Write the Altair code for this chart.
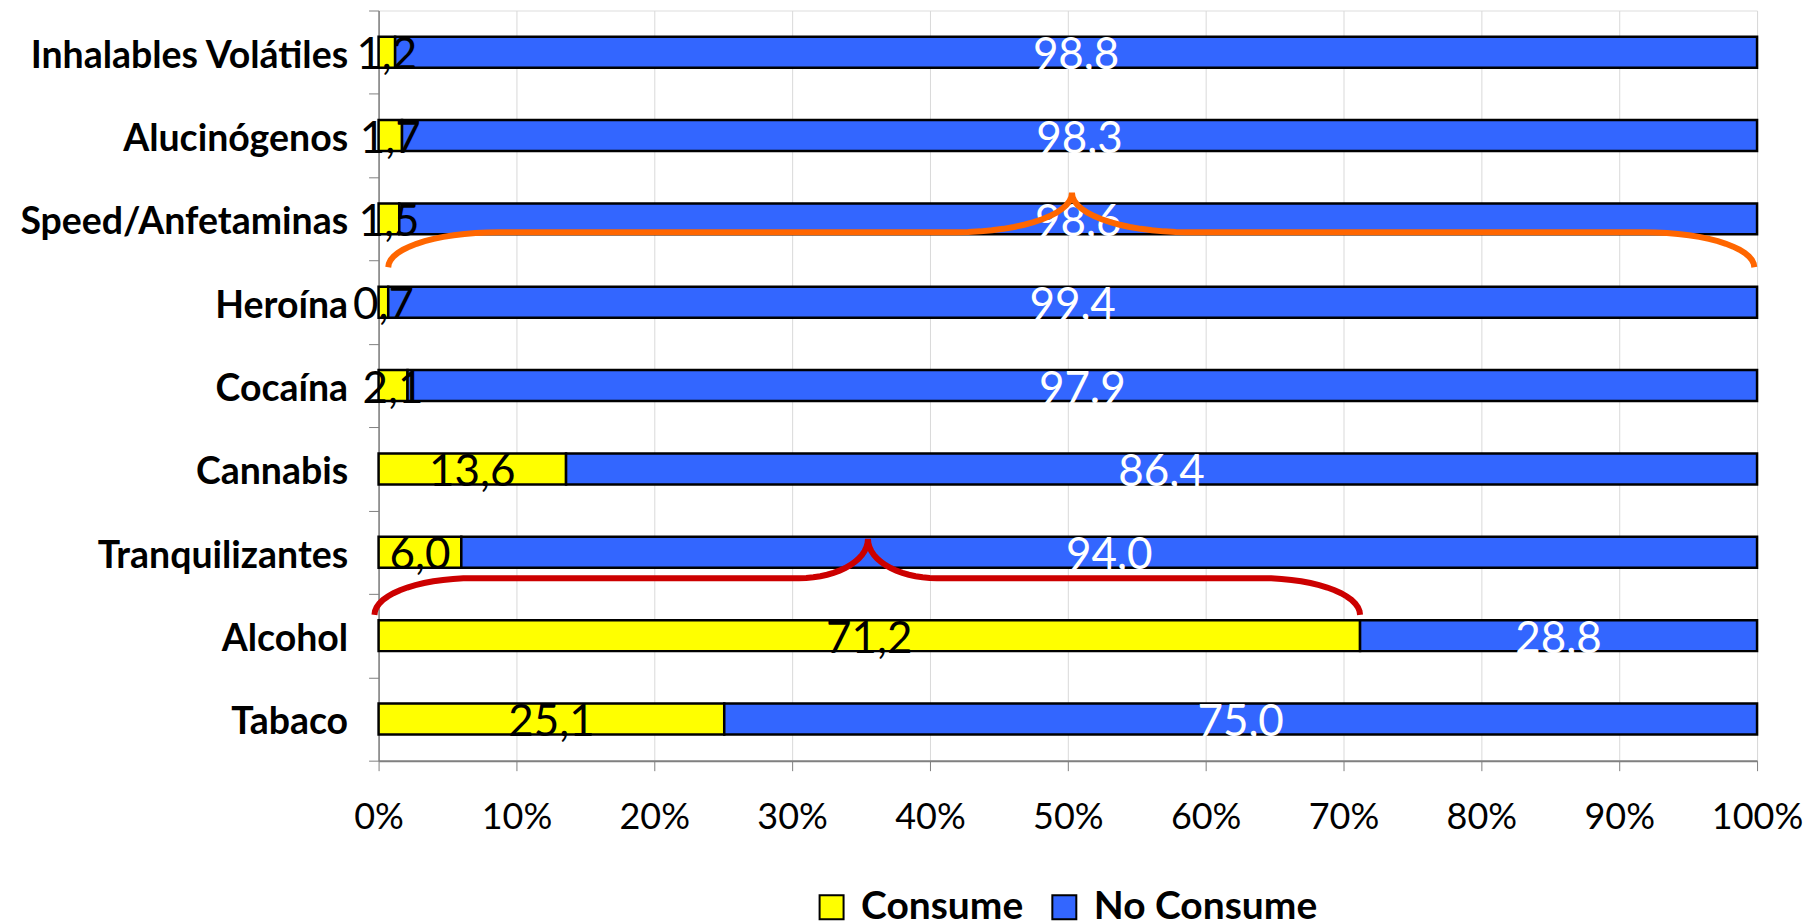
import altair as alt
import pandas as pd
import numpy as np

categories = ["Inhalables Volátiles", "Alucinógenos", "Speed/Anfetaminas", "Heroína",
              "Cocaína", "Cannabis", "Tranquilizantes", "Alcohol", "Tabaco"]
consume = [1.2, 1.7, 1.5, 0.7, 2.1, 13.6, 6.0, 71.2, 25.1]
no_consume = [98.8, 98.3, 98.6, 99.4, 97.9, 86.4, 94.0, 28.8, 75.0]
consume_labels = ["1,2", "1,7", "1,5", "0,7", "2,1", "13,6", "6,0", "71,2", "25,1"]
no_consume_labels = ["98,8", "98,3", "98,6", "99,4", "97.9", "86,4", "94,0", "28,8", "75,0"]
series = ["Consume", "No Consume"]
series_colors = ["#FFFF00", "#3366FF"]
x_ticks = [0, 0.1, 0.2, 0.3, 0.4, 0.5, 0.6, 0.7, 0.8, 0.9, 1.0]

# braces: x start, x end, tip x (fraction of total), y end / mid / tip (row units from top),
# end-curve width, tip-curve width (fraction)
brace_names = ["orange", "red"]
brace_colors = ["#FF6600", "#CC0000"]
brace_xa = [0.007, -0.003]
brace_xb = [0.998, 0.712]
brace_xt = [0.503, 0.355]
brace_yend = [3.08, 7.25]
brace_ymid = [2.66, 6.81]
brace_ytip = [2.19, 6.34]
brace_w1 = [0.08, 0.072]
brace_w2 = [0.084, 0.05]

rows = []
for i, c in enumerate(categories):
    rows.append({"cat": c, "serie": series[0], "value": consume[i], "label": consume_labels[i], "ord": 0})
    rows.append({"cat": c, "serie": series[1], "value": no_consume[i], "label": no_consume_labels[i], "ord": 1})
df = pd.DataFrame(rows)

bpts = []
for b in range(len(brace_names)):
    xa, xb, xt = brace_xa[b], brace_xb[b], brace_xt[b]
    ye, ym, yt = brace_yend[b], brace_ymid[b], brace_ytip[b]
    w1, w2 = brace_w1[b], brace_w2[b]
    t = np.linspace(0, np.pi / 2, 16)
    pts = []
    pts += list(zip(xa + w1 - w1 * np.cos(t), ye - (ye - ym) * np.sin(t)))
    pts += list(zip(xt - w2 + w2 * np.sin(t), yt + (ym - yt) * np.cos(t)))
    pts += list(zip(xt + w2 * (1 - np.cos(t)), yt + (ym - yt) * np.sin(t)))
    pts += list(zip(xb - w1 + w1 * np.sin(t), ym + (ye - ym) * (1 - np.cos(t))))
    for k, (px, py) in enumerate(pts):
        bpts.append({"brace": brace_names[b], "bx": float(px), "by": float(py), "k": k})
bdf = pd.DataFrame(bpts)

FONT = "Lato"

y_scale = alt.Scale(paddingInner=0, paddingOuter=0)
y_enc = alt.Y("cat:N", sort=categories, title=None, scale=y_scale,
              axis=alt.Axis(labelFont=FONT, labelFontSize=37.5, labelFontWeight="bold",
                            labelColor="black", tickBand="extent", tickSize=10,
                            tickColor="#808080", domainColor="#808080", domainWidth=1.5,
                            labelPadding=21, grid=False, labelLimit=0, labelOffset=4))
x_scale = alt.Scale(domain=[0, 1], nice=False)

base = alt.Chart(df).transform_stack(
    stack="value", groupby=["cat"], offset="normalize", as_=["x0", "x1"],
    sort=[alt.SortField("ord", order="ascending")]
).transform_calculate(mid="(datum.x0 + datum.x1) / 2")

bars = base.mark_bar(size=31, stroke="black", strokeWidth=2.5).encode(
    x=alt.X("x0:Q", scale=x_scale, title=None,
            axis=alt.Axis(values=x_ticks, format="%", labelFont=FONT, labelFontSize=36,
                          labelColor="black", tickSize=10, tickColor="#808080",
                          domainColor="#808080", domainWidth=2, grid=True,
                          gridColor="#D9D9D9", gridWidth=1, labelPadding=30,
                          labelFlush=False)),
    x2="x1:Q",
    y=y_enc,
    color=alt.Color("serie:N", scale=alt.Scale(domain=series, range=series_colors),
                    legend=alt.Legend(title=None, orient="none", legendX=434, legendY=878,
                                      direction="horizontal", symbolType="square",
                                      symbolSize=576, symbolStrokeColor="black",
                                      symbolStrokeWidth=2, labelFont=FONT,
                                      labelFontSize=39, labelFontWeight="bold",
                                      labelColor="black", labelOffset=10,
                                      columnPadding=21, padding=0, labelLimit=0)),
)

txt_c = base.transform_filter(alt.datum.serie == "Consume").mark_text(
    font=FONT, fontSize=44, color="black", baseline="middle", dy=4
).encode(x=alt.X("mid:Q", scale=x_scale), y=alt.Y("cat:N", sort=categories), text="label:N")

txt_n = base.transform_filter(alt.datum.serie == "No Consume").mark_text(
    font=FONT, fontSize=44, color="white", baseline="middle", dy=4
).encode(x=alt.X("mid:Q", scale=x_scale), y=alt.Y("cat:N", sort=categories), text="label:N")

braces = alt.Chart(bdf).mark_line(strokeWidth=6, strokeJoin="miter", strokeCap="butt").encode(
    x=alt.X("bx:Q", scale=x_scale),
    y=alt.Y("by:Q", scale=alt.Scale(domain=[0, 9], reverse=True, nice=False, zero=False), axis=None),
    color=alt.Color("brace:N", scale=alt.Scale(domain=brace_names, range=brace_colors), legend=None),
    order="k:Q",
)

chart = alt.layer(alt.layer(bars, txt_c, txt_n), braces).resolve_scale(
    y="independent", color="independent"
).properties(
    width=1380, height=751,
    autosize=alt.AutoSizeParams(type="none"),
    padding={"left": 371, "top": 2, "right": 54, "bottom": 160},
).configure_view(stroke=None).configure(background="white")

chart.save("out.html", embed_options={"renderer": "svg", "actions": False})
